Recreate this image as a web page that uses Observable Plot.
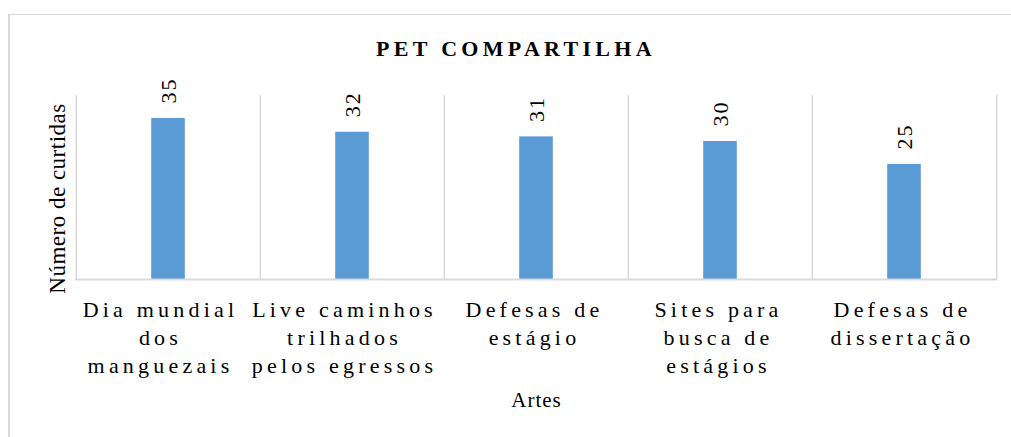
<!DOCTYPE html>
<html>
<head>
<meta charset="utf-8">
<script src="https://cdn.jsdelivr.net/npm/d3@7"></script>
<script src="https://cdn.jsdelivr.net/npm/@observablehq/plot@0.6"></script>
<style>
  html, body { margin: 0; padding: 0; background: #fff; overflow: hidden; }
  #wrap { position: relative; width: 1011px; height: 437px; overflow: hidden; font-family: "Liberation Serif", "DejaVu Serif", serif; }
  #frame { position: absolute; left: 8px; top: 14px; width: 1100px; height: 600px; border-left: 2px solid #d9d9d9; border-top: 1.5px solid #d9d9d9; box-sizing: border-box; }
  #title { position: absolute; left: 0; top: 38px; width: 990px; padding-left: 21px; text-align: center; font-family: "Liberation Serif", "DejaVu Serif", serif; font-size: 22px; line-height: 22px; font-weight: bold; letter-spacing: 4.3px; color: #000; }
  #chart { position: absolute; left: 0; top: 60px; }
  [aria-description="cats"] text { letter-spacing: 4.2px; }
  [aria-description="values"] text { letter-spacing: 2px; }
  [aria-description="ylabel"] text { letter-spacing: 0.5px; }
  [aria-description="xlabel"] text { letter-spacing: 1px; }
</style>
</head>
<body>
<div id="wrap">
  <div id="frame"></div>
  <div id="title">PET COMPARTILHA</div>
  <div id="chart"></div>
</div>
<script>
const categories = [
  "Dia mundial\ndos\nmanguezais",
  "Live caminhos\ntrilhados\npelos egressos",
  "Defesas de\nestágio",
  "Sites para\nbusca de\nestágios",
  "Defesas de\ndissertação"
];
const likes = [35, 32, 31, 30, 25];
const yLabel = "Número de curtidas";
const xLabel = "Artes";

const data = categories.map((c, i) => ({cat: c, value: likes[i]}));

const W = 1011, H = 377, mL = 75, mR = 14, mT = 35, mB = 158;
const bw = (W - mL - mR) / categories.length;
const barW = 34;
const ins = (bw - barW) / 2;
const grid = "#d9d9d9";
const serif = "'Liberation Serif', 'DejaVu Serif', serif";

const catText = (subset, dx) => Plot.text(subset, {
  x: d => d, frameAnchor: "bottom", text: d => d, lineAnchor: "top", textAnchor: "middle",
  dy: 18, dx, lineHeight: 1.27, fontSize: 22, fontFamily: serif, fill: "#000", ariaDescription: "cats"
});

const chart = Plot.plot({
  width: W,
  height: H,
  marginLeft: mL,
  marginRight: mR,
  marginTop: mT,
  marginBottom: mB,
  style: {fontFamily: serif, color: "#000", background: "transparent"},
  x: {domain: categories, padding: 0, axis: null},
  y: {domain: [0, 40], axis: null},
  marks: [
    Plot.ruleX(categories, {x: d => d, y1: 0, y2: 40, stroke: grid, strokeWidth: 1.5, dx: -bw / 2}),
    Plot.ruleX([categories[categories.length - 1]], {x: d => d, y1: 0, y2: 40, stroke: grid, strokeWidth: 1.5, dx: bw / 2}),
    Plot.barY(data, {x: "cat", y: "value", fill: "#5b9bd5", insetLeft: ins, insetRight: ins}),
    Plot.ruleY([0], {stroke: grid, strokeWidth: 2}),
    Plot.text(data, {x: "cat", y: "value", text: d => String(d.value), rotate: -90, textAnchor: "start", lineAnchor: "middle", dy: -15, fontSize: 22, fontFamily: serif, fill: "#000", ariaDescription: "values"}),
    catText(categories.slice(0, 2), -8),
    catText(categories.slice(2), -2),
    Plot.text([yLabel], {frameAnchor: "left", text: d => d, rotate: -90, lineAnchor: "middle", textAnchor: "middle", dx: -17.5, dy: 11, fontSize: 23, fontFamily: serif, fill: "#000", ariaDescription: "ylabel"}),
    Plot.text([xLabel], {frameAnchor: "bottom", text: d => d, lineAnchor: "middle", textAnchor: "middle", dy: 121, fontSize: 21, fontFamily: serif, fill: "#000", ariaDescription: "xlabel"})
  ]
});
document.getElementById("chart").appendChild(chart);
</script>
</body>
</html>
